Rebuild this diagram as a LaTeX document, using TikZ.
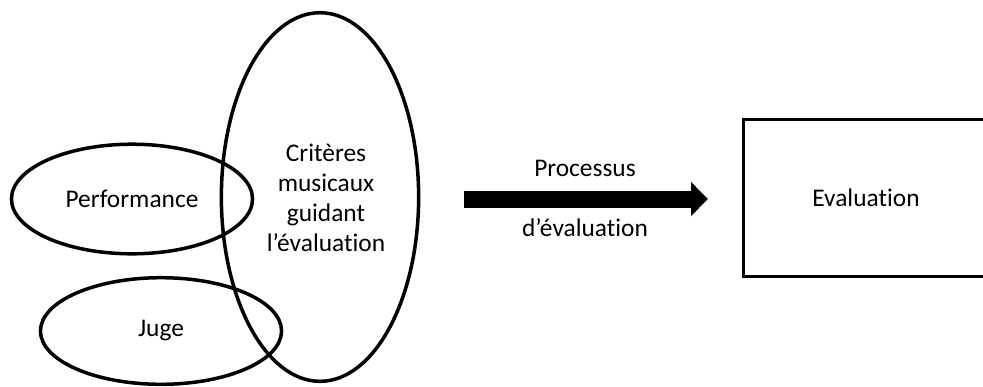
\documentclass[tikz,border=0pt]{standalone}
\usepackage{fontspec}
\setmainfont{Carlito}[RawFeature=-liga]
\usetikzlibrary{arrows.meta, positioning, shapes.geometric}

\begin{document}
\begin{tikzpicture}[x=1bp, y=-1bp,
    every node/.style={font=\fontsize{25.5}{30}\selectfont, inner sep=0pt},
    oval/.style={draw, ellipse, line width=3.5bp},
    bigarrow/.style={line width=17bp, -{Triangle[length=17bp, width=33bp]}}]
    \useasboundingbox (0,0) rectangle (983,386);
    % ellipses
    \node[oval, minimum width=198, minimum height=370] (crit) at (320,197) {};
    \node[align=center] (critlbl) at (326,198) {Critères\\musicaux\\guidant\\l’évaluation};
    \node[oval, minimum width=242, minimum height=110] (perf) at (132,199) {Performance};
    \node[oval, minimum width=242, minimum height=107] (juge) at (161,331) {Juge};
    % arrow
    \coordinate (a1) at (464,199);
    \coordinate (a2) at (708,199);
    \draw[bigarrow] (a1) -- (a2);
    \node (proc) at (585,168) {Processus};
    \node (devl) at (585,228) {d’évaluation};
    % box
    \node[draw, line width=3.5bp, minimum width=252, minimum height=158] (eval) at (869,198) {};
    \node (evallbl) at (866,198) {Evaluation};
\end{tikzpicture}
\end{document}
